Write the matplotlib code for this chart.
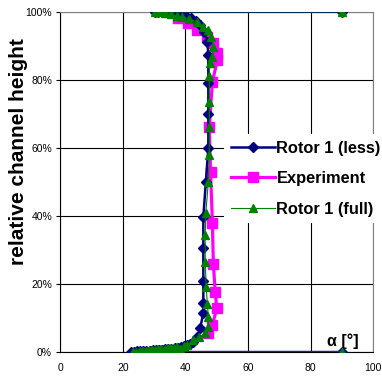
import matplotlib
matplotlib.use("Agg")
import matplotlib.pyplot as plt
from matplotlib.ticker import FuncFormatter

plt.rcParams['font.family'] = ['Liberation Sans', 'DejaVu Sans']

# Rotor 1 (less) - navy diamonds
x_less = [90, 22.5, 23.5, 24.5, 25.5, 26.5, 27.5, 28.5, 29.5, 30.5, 31.5, 32.5,
          33.5, 34.5, 35.5, 36.5, 37.5, 38.5, 39.5, 40.5, 41.5, 42.5, 43.8, 44.7,
          45.7, 45.7, 45.7, 45.7, 45.7, 46.5, 47.3, 47.3, 47.3, 47.3, 47.0, 46.0,
          44.7, 43.3, 41.8, 40.3, 38.8, 37.3, 35.8, 34.3, 32.8, 31.3, 30.4, 90]
y_less = [0, 0, 0.1, 0.2, 0.2, 0.3, 0.3, 0.4, 0.5, 0.6, 0.6, 0.7,
          0.8, 0.9, 1.0, 1.1, 1.3, 1.5, 1.7, 2.0, 2.4, 3.0, 4.4, 7.0,
          11.5, 14.4, 21.0, 30.6, 39.7, 50.0, 60.0, 70.0, 79.0, 87.4, 91.0, 94.0,
          96.0, 97.3, 98.2, 98.8, 99.2, 99.5, 99.7, 99.8, 99.9, 100, 100, 100]

# Experiment - magenta squares
x_exp = [47.3, 48.6, 50.0, 49.5, 48.9, 48.6, 48.0, 47.6, 48.6, 50.2, 50.2,
         48.9, 47.0, 43.8, 40.9, 37.7]
y_exp = [5.6, 8.0, 12.8, 17.6, 26.0, 38.0, 53.0, 66.0, 79.4, 85.9, 88.0,
         90.9, 92.6, 94.7, 96.8, 98.2]

# Rotor 1 (full) - green triangles
x_full = [90, 23.3, 24.3, 25.3, 26.3, 27.3, 28.3, 29.3, 30.3, 31.3, 32.3, 33.3,
          34.3, 35.3, 36.3, 37.3, 38.3, 39.5, 40.6, 42.5, 44.4, 46.3, 47.3, 47.3,
          47.0, 46.6, 46.3, 46.3, 46.5, 47.3, 47.6, 47.6, 47.6, 47.6, 47.8, 48.6,
          48.9, 48.2, 47.3, 45.7, 43.8, 41.0, 39.0, 37.4, 35.5, 33.5, 31.5, 30.4, 90]
y_full = [0, 0, 0.1, 0.2, 0.3, 0.4, 0.5, 0.6, 0.7, 0.8, 0.9, 1.0,
          1.1, 1.2, 1.3, 1.4, 1.0, 1.8, 2.0, 3.5, 4.5, 5.5, 7.5, 10.3,
          14.0, 19.0, 26.5, 34.4, 41.0, 50.0, 58.0, 66.0, 73.5, 81.0, 85.0, 86.8,
          89.7, 92.6, 94.7, 95.6, 97.0, 98.0, 98.5, 98.7, 99.3, 99.6, 99.8, 100, 100]

x_ticks = [0, 20, 40, 60, 80, 100]
y_ticks = [0, 20, 40, 60, 80, 100]

fig = plt.figure(figsize=(3.82, 3.81), dpi=100)
ax = fig.add_axes([0.158, 0.076, 0.819, 0.893])

ax.plot(x_exp, y_exp, color='#FF00FF', lw=2.3, marker='s', ms=6.5,
        label='Experiment', zorder=3)
ax.plot(x_less, y_less, color='#000080', lw=1.8, marker='D', ms=5.5,
        label='Rotor 1 (less)', zorder=4)
ax.plot(x_full, y_full, color='#008000', lw=0.8, marker='^', ms=5.5,
        label='Rotor 1 (full)', zorder=5)

ax.set_xlim(0, 100)
ax.set_ylim(0, 100)
ax.set_xticks(x_ticks)
ax.set_yticks(y_ticks)
ax.yaxis.set_major_formatter(FuncFormatter(lambda v, p: '%d%%' % v))
ax.grid(True, color='black', lw=0.8)
ax.set_axisbelow(True)
ax.tick_params(axis='both', labelsize=7.5, colors='black')
ax.tick_params(axis='y', length=3, width=0.8, pad=3)
ax.tick_params(axis='x', length=0, pad=8)
for s in ['top', 'right']:
    ax.spines[s].set_color('#808080')
for s in ['left', 'bottom']:
    ax.spines[s].set_color('black')

ax.set_ylabel('relative channel height', fontsize=15, fontweight='bold')
ax.yaxis.set_label_coords(-0.103, 0.59)
ax.text(95.3, 1.8, 'α [°]', fontsize=11.5, fontweight='bold', ha='right', va='baseline')

h, l = ax.get_legend_handles_labels()
order = [1, 0, 2]
leg = ax.legend([h[i] for i in order], [l[i] for i in order],
                loc='upper left', bbox_to_anchor=(224 / 382, 1 - 134 / 381),
                bbox_transform=fig.transFigure, prop={'size': 11.8, 'weight': 'bold'},
                handlelength=2.7, handletextpad=0.1, labelspacing=0.95,
                borderpad=0.4, borderaxespad=0, frameon=True, fancybox=False,
                framealpha=1, facecolor='white', edgecolor='none')

fig.savefig('out.png', dpi=100)
